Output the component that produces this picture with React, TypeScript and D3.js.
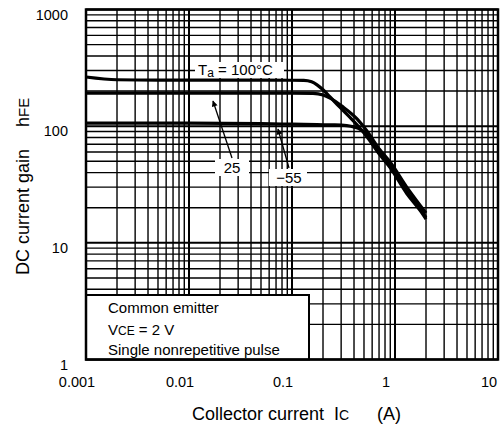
import React, { useEffect, useRef } from "react";
import * as d3 from "d3";

// collector current (A) / DC current gain per ambient temperature
const ic100 = [0.001, 0.002, 0.005, 0.01, 0.05, 0.13, 0.155, 0.175, 0.2, 0.234, 0.29, 0.39, 0.53, 0.71, 0.9, 1.3, 1.75, 2.0];
const hfe100 = [264, 250, 248, 248, 248, 247, 240, 226, 205, 178, 146, 112, 82, 57, 44, 26.5, 19, 16];

const ic25 = [0.001, 0.01, 0.1, 0.16, 0.2, 0.234, 0.31, 0.43, 0.53, 0.71, 0.9, 1.3, 1.75, 2.0];
const hfe25 = [192, 192, 192, 191, 185, 174, 147, 115, 92, 63, 49, 30, 21, 18];

const icM55 = [0.001, 0.01, 0.05, 0.1, 0.175, 0.26, 0.34, 0.46, 0.57, 0.71, 0.9, 1.3, 1.75, 2.0];
const hfeM55 = [106, 106, 105, 104, 103, 102.5, 101, 94, 81, 59, 45.5, 27.5, 19.5, 16.5];

const xTicks = [0.001, 0.01, 0.1, 1, 10];
const xTickLabels = ["0.001", "0.01", "0.1", "1", "10"];
const yTicks = [1, 10, 100, 1000];
const yTickLabels = ["1", "10", "100", "1000"];

const FONT = "'Liberation Sans', Arial, sans-serif";

const HfeChart = () => {
  const svgRef = useRef(null);

  useEffect(() => {
    const svg = d3.select(svgRef.current);
    svg.selectAll("*").remove();

    const left = 86, right = 498, top = 9.5, bottom = 359.5;

    const x = d3.scaleLog().domain([0.001, 10]).range([left, right]);
    const y = d3.scaleLog().domain([1, 1000]).range([bottom, top]);

    svg.append("rect").attr("width", 501).attr("height", 432).attr("fill", "#fff");

    const grid = svg.append("g");
    const isMajor = (v) => Math.abs(Math.log10(v) - Math.round(Math.log10(v))) < 1e-6;

    grid.selectAll(".vx")
      .data(x.ticks())
      .enter()
      .append("line")
      .attr("x1", (d) => x(d))
      .attr("x2", (d) => x(d))
      .attr("y1", top)
      .attr("y2", bottom)
      .attr("stroke", "#000")
      .attr("stroke-width", (d) => (isMajor(d) ? 2 : 1.4));

    grid.selectAll(".hy")
      .data(y.ticks())
      .enter()
      .append("line")
      .attr("x1", left)
      .attr("x2", right)
      .attr("y1", (d) => y(d))
      .attr("y2", (d) => y(d))
      .attr("stroke", "#000")
      .attr("stroke-width", (d) => (isMajor(d) ? 2 : 1.4));

    // condition box
    svg.append("rect")
      .attr("x", left)
      .attr("y", 295)
      .attr("width", 223)
      .attr("height", bottom - 295)
      .attr("fill", "#fff")
      .attr("stroke", "#000")
      .attr("stroke-width", 2);

    const box = svg.append("text").attr("font-family", FONT).attr("font-size", 15).attr("fill", "#000");
    box.append("tspan").attr("x", 108).attr("y", 313).text("Common emitter");
    const vce = box.append("tspan").attr("x", 108).attr("y", 335);
    vce.append("tspan").text("V");
    vce.append("tspan").attr("font-size", 12).text("CE");
    vce.append("tspan").text(" = 2 V");
    box.append("tspan").attr("x", 108).attr("y", 355).text("Single nonrepetitive pulse");

    // curves
    const line = d3.line()
      .x((d) => x(d[0]))
      .y((d) => y(d[1]))
      .curve(d3.curveMonotoneX);

    const series = [
      [ic100, hfe100],
      [ic25, hfe25],
      [icM55, hfeM55],
    ];
    series.forEach(([xs, ys]) => {
      svg.append("path")
        .datum(xs.map((v, i) => [v, ys[i]]))
        .attr("d", line)
        .attr("fill", "none")
        .attr("stroke", "#000")
        .attr("stroke-width", 3.2)
        .attr("stroke-linejoin", "round");
    });

    // frame
    svg.append("rect")
      .attr("x", left)
      .attr("y", top)
      .attr("width", right - left)
      .attr("height", bottom - top)
      .attr("fill", "none")
      .attr("stroke", "#000")
      .attr("stroke-width", 2.5);

    // annotations
    svg.append("rect").attr("x", 195).attr("y", 62).attr("width", 89).attr("height", 16).attr("fill", "#fff");
    const ta = svg.append("text").attr("font-family", FONT).attr("font-size", 15).attr("x", 198).attr("y", 75);
    ta.append("tspan").text("T");
    ta.append("tspan").attr("font-size", 12).attr("dy", 2).text("a");
    ta.append("tspan").attr("dy", -2).text(" = 100\u00b0C");

    svg.append("defs")
      .append("marker")
      .attr("id", "ah")
      .attr("viewBox", "0 0 10 10")
      .attr("refX", 9)
      .attr("refY", 5)
      .attr("markerWidth", 7)
      .attr("markerHeight", 6)
      .attr("markerUnits", "userSpaceOnUse")
      .attr("orient", "auto")
      .append("path")
      .attr("d", "M0,0 L10,5 L0,10 z")
      .attr("fill", "#000");

    svg.append("line").attr("x1", 232).attr("y1", 158).attr("x2", 213).attr("y2", 101)
      .attr("stroke", "#000").attr("stroke-width", 1.3).attr("marker-end", "url(#ah)");
    svg.append("line").attr("x1", 289).attr("y1", 168).attr("x2", 278).attr("y2", 129)
      .attr("stroke", "#000").attr("stroke-width", 1.3).attr("marker-end", "url(#ah)");

    svg.append("rect").attr("x", 215).attr("y", 159).attr("width", 34).attr("height", 17).attr("fill", "#fff");
    svg.append("text").attr("font-family", FONT).attr("font-size", 15).attr("x", 232).attr("y", 173)
      .attr("text-anchor", "middle").text("25");
    svg.append("rect").attr("x", 269).attr("y", 169).attr("width", 38).attr("height", 17).attr("fill", "#fff");
    svg.append("text").attr("font-family", FONT).attr("font-size", 15).attr("x", 289).attr("y", 183)
      .attr("text-anchor", "middle").text("\u221255");

    // tick labels
    svg.selectAll(".xl")
      .data(xTicks)
      .enter()
      .append("text")
      .attr("font-family", FONT)
      .attr("font-size", 14.5)
      .attr("text-anchor", "middle")
      .attr("x", (d) => x(d) - 9)
      .attr("y", 387)
      .text((d, i) => xTickLabels[i]);

    svg.selectAll(".yl")
      .data(yTicks)
      .enter()
      .append("text")
      .attr("font-family", FONT)
      .attr("font-size", 14.5)
      .attr("text-anchor", "end")
      .attr("x", 68)
      .attr("y", (d) => y(d) + 10)
      .text((d, i) => yTickLabels[i]);

    // axis titles
    const xt = svg.append("text").attr("font-family", FONT).attr("font-size", 18).attr("y", 420);
    xt.append("tspan").attr("x", 192).text("Collector current");
    xt.append("tspan").attr("x", 334).text("I");
    xt.append("tspan").attr("font-size", 14).text("C");
    xt.append("tspan").attr("x", 377).text("(A)");

    const yt = svg.append("text")
      .attr("font-family", FONT)
      .attr("font-size", 18)
      .attr("transform", "translate(29,275) rotate(-90)");
    yt.append("tspan").attr("x", 0).text("DC current gain");
    yt.append("tspan").attr("x", 148).text("h");
    yt.append("tspan").attr("font-size", 15).text("FE");
  }, []);

  return <svg ref={svgRef} width={501} height={432} style={{ position: "absolute", left: 0, top: 0 }} />;
};

export default function App() {
  return <HfeChart />;
}
